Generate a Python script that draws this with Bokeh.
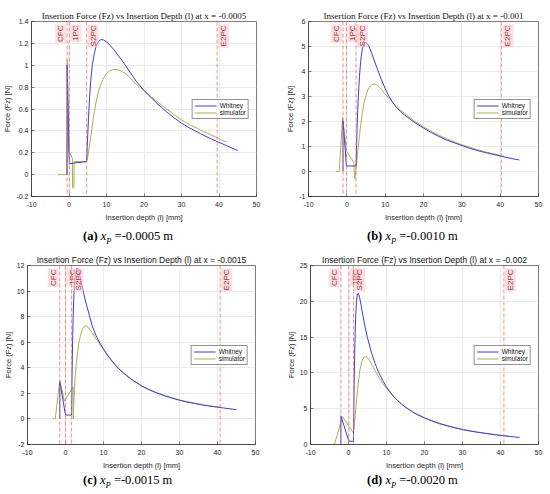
import numpy as np
from bokeh.plotting import figure
from bokeh.layouts import column, row
from bokeh.models import Span, Label, Div, Legend, LegendItem, Range1d, FixedTicker
from bokeh.embed import file_html
from bokeh.resources import INLINE

# ---------------- data ----------------
x_ticks = [-10, 0, 10, 20, 30, 40, 50]
line_names = ["CFC", "1PC", "S2PC", "E2PC"]

a_title = "Insertion Force (Fz) vs Insertion Depth (l) at x = -0.0005"
a_whit_l = [-0.5, -0.5, 0.1, 4.7, 4.85, 5.0, 5.2, 5.5, 5.8, 6.2, 6.7, 7.2, 7.8, 8.5, 9.2, 10, 11, 12, 13, 14, 15, 16, 17, 18, 19, 20,
            22, 24, 26, 28, 30, 32, 35, 38, 40, 42, 45]
a_whit_f = [0, 1.0, 0.10, 0.12, 0.25, 0.37, 0.52, 0.71, 0.86, 1.0, 1.1, 1.17, 1.215, 1.235, 1.232, 1.215, 1.18, 1.14, 1.095, 1.05, 1.0,
            0.95, 0.9, 0.85, 0.81, 0.77, 0.70, 0.635, 0.575, 0.52, 0.47, 0.43, 0.375, 0.325, 0.295, 0.265, 0.22]
a_sim_l = [-3.0, -0.6, -0.45, -0.1, 0.5, 0.9, 0.95, 1.3, 1.35, 4.7, 5.0, 5.4, 5.9, 6.5, 7.2, 8, 9, 10, 11, 12, 13, 14, 15, 16, 17,
           18, 19, 20, 22, 24, 26, 28, 30, 32, 35, 38, 40, 41, 42]
a_sim_f = [0, 0, 1.05, 0.21, 0.18, 0.15, -0.12, -0.12, 0.12, 0.12, 0.16, 0.25, 0.37, 0.52, 0.66, 0.78, 0.87, 0.925, 0.953, 0.963,
           0.96, 0.945, 0.925, 0.895, 0.86, 0.825, 0.795, 0.77, 0.71, 0.655, 0.60, 0.55, 0.50, 0.46, 0.41, 0.36, 0.33, 0.31, 0.30]
a_lines = [-0.5, 0.1, 4.7, 39.5]
a_yticks = [-0.2, 0, 0.2, 0.4, 0.6, 0.8, 1, 1.2, 1.4]
a_ylabels = ["-0.2", "0", "0.2", "0.4", "0.6", "0.8", "1", "1.2", "1.4"]
a_caption = ("(a)", "-0.0005 m")

b_title = "Insertion Force (Fz) vs Insertion Depth (l) at x = -0.001"
b_whit_l = [-1.0, -1.0, -0.1, 2.4, 2.5, 2.65, 2.8, 3.0, 3.3, 3.6, 4.0, 4.4, 4.8, 5.2, 5.8, 6.5, 7.2, 8, 9, 10, 11, 12, 13, 14, 15,
            17.5, 20, 22, 24, 26, 28, 30, 32, 34, 36, 38, 40, 42, 45]
b_whit_f = [0, 2.02, 0.22, 0.22, 0.8, 1.6, 2.3, 3.0, 3.8, 4.4, 4.85, 5.1, 5.17, 5.14, 5.0, 4.72, 4.42, 4.08, 3.68, 3.32, 3.0, 2.75,
            2.55, 2.4, 2.27, 1.98, 1.74, 1.56, 1.40, 1.26, 1.15, 1.04, 0.93, 0.84, 0.76, 0.69, 0.62, 0.55, 0.46]
b_sim_l = [-2.8, -2.0, -1.1, -0.1, 1.8, 2.0, 2.1, 2.4, 2.8, 3.2, 3.6, 4.0, 4.5, 5.0, 5.5, 6.0, 6.6, 7.2, 7.8, 8.5, 9.3, 10, 11, 12,
           13, 14, 15, 17.5, 20, 22, 24, 26, 28, 30, 32, 34, 36, 38, 40, 41]
b_sim_f = [0, 0, 2.17, 0.82, 0.37, -0.25, -0.3, 0.1, 0.7, 1.3, 1.85, 2.3, 2.75, 3.05, 3.27, 3.4, 3.48, 3.5, 3.47, 3.38, 3.24, 3.1,
           2.92, 2.76, 2.6, 2.46, 2.33, 2.03, 1.79, 1.61, 1.45, 1.31, 1.19, 1.07, 0.97, 0.88, 0.79, 0.72, 0.645, 0.61]
b_lines = [-1.0, -0.1, 2.4, 40.3]
b_yticks = [-1, 0, 1, 2, 3, 4, 5, 6]
b_ylabels = ["-1", "0", "1", "2", "3", "4", "5", "6"]
b_caption = ("(b)", "-0.0010 m")

c_title = "Insertion Force (Fz) vs Insertion Depth (l) at x = -0.0015"
c_whit_l = [-1.5, -1.5, 0.0, 1.6, 1.7, 1.8, 1.9, 2.0, 2.15, 2.3, 2.5, 2.75, 3.0, 3.3, 3.7, 4.2, 4.8, 5.5, 6.2, 7, 8, 9, 10, 11, 12,
            13, 14, 15, 16, 17, 18, 20, 22, 24, 26, 28, 30, 32, 34, 36, 38, 40, 42, 45]
c_whit_f = [0, 2.9, 0.3, 0.3, 3.0, 4.8, 6.5, 7.8, 9.2, 10.2, 11.1, 11.6, 11.8, 11.7, 11.3, 10.6, 9.8, 8.95, 8.2, 7.3, 6.55, 5.95,
            5.45, 5.0, 4.6, 4.25, 3.93, 3.65, 3.4, 3.17, 2.96, 2.58, 2.28, 2.03, 1.82, 1.63, 1.46, 1.32, 1.2, 1.09, 1.0, 0.92, 0.84, 0.72]
c_sim_l = [-3.3, -2.7, -1.5, -0.3, 2.0, 2.05, 2.15, 2.5, 3.0, 3.5, 4.0, 4.5, 5.0, 5.5, 6.0, 7, 8, 9, 10, 11, 12, 13, 14, 15, 16,
           17, 18, 20, 22, 24, 26, 28, 30, 32, 34, 36, 38, 40, 41]
c_sim_f = [0, 0, 3.05, 1.4, 2.5, 0.0, 1.0, 3.2, 4.8, 5.9, 6.6, 7.05, 7.25, 7.27, 7.15, 6.75, 6.3, 5.85, 5.45, 5.02, 4.63, 4.27,
           3.95, 3.68, 3.43, 3.2, 2.99, 2.61, 2.31, 2.06, 1.85, 1.66, 1.49, 1.35, 1.23, 1.12, 1.02, 0.94, 0.9]
c_lines = [-1.5, 0.0, 1.6, 40.7]
c_yticks = [-2, 0, 2, 4, 6, 8, 10, 12]
c_ylabels = ["-2", "0", "2", "4", "6", "8", "10", "12"]
c_caption = ("(c)", "-0.0015 m")

d_title = "Insertion Force (Fz) vs Insertion Depth (l) at x = -0.002"
d_whit_l = [-2.0, -2.0, 0.1, 1.3, 1.4, 1.5, 1.6, 1.75, 1.9, 2.1, 2.35, 2.6, 2.9, 3.3, 3.8, 4.4, 5, 6, 7, 8, 9, 10, 11, 12, 13, 14,
            15, 16, 17, 18, 20, 22, 24, 26, 28, 30, 32, 34, 36, 38, 40, 42, 45]
d_whit_f = [0, 4.0, 0.45, 0.45, 5.0, 9.0, 12.0, 15.5, 18.0, 20.0, 21.0, 21.1, 20.6, 19.5, 18.0, 16.3, 14.9, 12.9, 11.3, 10.0, 8.95,
            8.05, 7.3, 6.65, 6.1, 5.6, 5.2, 4.83, 4.5, 4.2, 3.7, 3.27, 2.9, 2.6, 2.32, 2.08, 1.88, 1.7, 1.55, 1.4, 1.27, 1.15, 0.98]
d_sim_l = [-3.7, -1.6, 1.3, 1.6, 2.0, 2.5, 3.0, 3.5, 4.0, 4.5, 5.0, 5.5, 6.0, 7, 8, 9, 10, 11, 12, 13, 14, 15, 16, 17, 18, 20, 22,
           24, 26, 28, 30, 32, 34, 36, 38, 40, 42]
d_sim_f = [0, 3.9, 1.6, 3.0, 5.5, 8.3, 10.4, 11.6, 12.2, 12.3, 12.1, 11.75, 11.3, 10.3, 9.35, 8.55, 7.85, 7.2, 6.65, 6.12, 5.65,
           5.25, 4.88, 4.55, 4.25, 3.75, 3.32, 2.96, 2.65, 2.37, 2.12, 1.92, 1.74, 1.58, 1.44, 1.3, 1.2]
d_lines = [-2.0, 0.1, 1.3, 40.9]
d_yticks = [0, 5, 10, 15, 20, 25]
d_ylabels = ["0", "5", "10", "15", "20", "25"]
d_caption = ("(d)", "-0.0020 m")

BLUE = "#3d3dd2"
GREEN = "#a6b150"
AX = "#262626"
SANS = "Liberation Sans"
SERIF = "Liberation Serif"


def make_panel(title, serif, wl, wf, sl, sf, vlines, yticks, ylabels, w, h, bl, br, bt, bb):
    p = figure(width=w, height=h, x_range=Range1d(-10, 50), y_range=Range1d(yticks[0], yticks[-1]),
               output_backend="svg", toolbar_location=None,
               min_border_left=bl, min_border_right=br, min_border_top=bt, min_border_bottom=bb)
    p.title.text = title
    p.title.align = "center"
    p.title.text_font = SERIF if serif else SANS
    p.title.text_font_size = "9px" if serif else "8.5px"
    p.title.text_font_style = "normal"
    p.title.text_color = "#111111"
    p.title.standoff = 1
    p.background_fill_color = "white"
    p.border_fill_color = "white"
    p.outline_line_color = AX
    p.outline_line_width = 0.6
    p.outline_line_alpha = 1

    xt = FixedTicker(ticks=x_ticks)
    yt = FixedTicker(ticks=yticks)
    p.xaxis.ticker = xt
    p.xgrid.ticker = xt
    p.yaxis.ticker = yt
    p.ygrid.ticker = yt
    p.xaxis.major_label_overrides = {t: str(t) for t in x_ticks}
    p.yaxis.major_label_overrides = {t: s for t, s in zip(yticks, ylabels)}
    p.grid.grid_line_color = "#e2e2e2"
    p.grid.grid_line_width = 0.7
    p.axis.minor_tick_line_color = None
    p.axis.major_tick_in = 3
    p.axis.major_tick_out = 0
    p.axis.axis_line_color = AX
    p.axis.axis_line_width = 0.6
    p.axis.major_tick_line_color = AX
    p.axis.major_tick_line_width = 0.6
    p.axis.major_label_text_font = SANS
    p.axis.major_label_text_font_size = "7px"
    p.axis.major_label_text_color = AX
    p.axis.axis_label_text_font = SANS
    p.axis.axis_label_text_font_size = "7.5px"
    p.axis.axis_label_text_font_style = "normal"
    p.axis.axis_label_text_color = AX
    p.xaxis.axis_label_standoff = 3
    p.yaxis.axis_label_standoff = 1
    p.xaxis.major_label_standoff = 5
    p.yaxis.major_label_standoff = 3
    p.xaxis.axis_label = "Insertion depth (l) [mm]"
    p.yaxis.axis_label = "Force (Fz) [N]"

    rs = p.line(sl, sf, line_color=GREEN, line_width=1.0)
    rb = p.line(wl, wf, line_color=BLUE, line_width=1.0)

    for v, name in zip(vlines, line_names):
        p.add_layout(Span(location=v, dimension="height", line_color="#e07a75",
                          line_dash="4 2", line_width=0.9, line_alpha=0.9))
        left = (name == "CFC")
        p.add_layout(Label(x=v, y=yticks[-1], x_units="data", y_units="data", text=name,
                           angle=np.pi / 2, text_align="right",
                           text_baseline="bottom" if left else "top",
                           x_offset=-1 if left else 1, y_offset=-3, padding=1,
                           text_font=SANS, text_font_size="8px", text_color="#a3352e",
                           background_fill_color="#f9c9d4", background_fill_alpha=0.6))

    leg = Legend(items=[LegendItem(label="Whitney", renderers=[rb]),
                        LegendItem(label="simulator", renderers=[rs])],
                 location="right")
    leg.label_text_font = SANS
    leg.label_text_font_size = "6.5px"
    leg.label_text_color = "#111111"
    leg.glyph_width = 22
    leg.glyph_height = 7
    leg.label_height = 7
    leg.label_standoff = 3
    leg.spacing = 0
    leg.padding = 2
    leg.margin = 7
    leg.border_line_color = AX
    leg.border_line_width = 0.6
    leg.background_fill_color = "white"
    leg.background_fill_alpha = 1
    p.add_layout(leg)
    return p


def caption(tag, val, w, h, pad_left, pad_top):
    html = (f'<div style="width:{w}px;padding-left:{pad_left}px;padding-top:{pad_top}px;'
            f"font-family:'{SERIF}';font-size:12.5px;line-height:13px;color:#000;white-space:nowrap;box-sizing:border-box\">"
            f'<b>{tag}</b> <i>x<sub style="font-size:8.5px;line-height:0">P</sub></i> ={val}</div>')
    return Div(text=html, width=w, height=h, margin=(0, 0, 0, 0))


pa = make_panel(a_title, True, a_whit_l, a_whit_f, a_sim_l, a_sim_f, a_lines, a_yticks, a_ylabels,
                283, 228, 30, 27, 21, 32)
pb = make_panel(b_title, True, b_whit_l, b_whit_f, b_sim_l, b_sim_f, b_lines, b_yticks, b_ylabels,
                267, 228, 24, 12, 15, 31)
pc = make_panel(c_title, False, c_whit_l, c_whit_f, c_sim_l, c_sim_f, c_lines, c_yticks, c_ylabels,
                283, 222, 27, 28, 15, 26)
pd = make_panel(d_title, False, d_whit_l, d_whit_f, d_sim_l, d_sim_f, d_lines, d_yticks, d_ylabels,
                267, 222, 26, 12, 15, 26)

ca = caption(*a_caption, 283, 22, 83, 2)
cb = caption(*b_caption, 267, 22, 84, 2)
cc = caption(*c_caption, 283, 22, 83, 1)
cd = caption(*d_caption, 267, 22, 84, 1)

layout = column(row(pa, pb), row(ca, cb), row(pc, pd), row(cc, cd))

open("out.html", "w").write(file_html(layout, INLINE))
